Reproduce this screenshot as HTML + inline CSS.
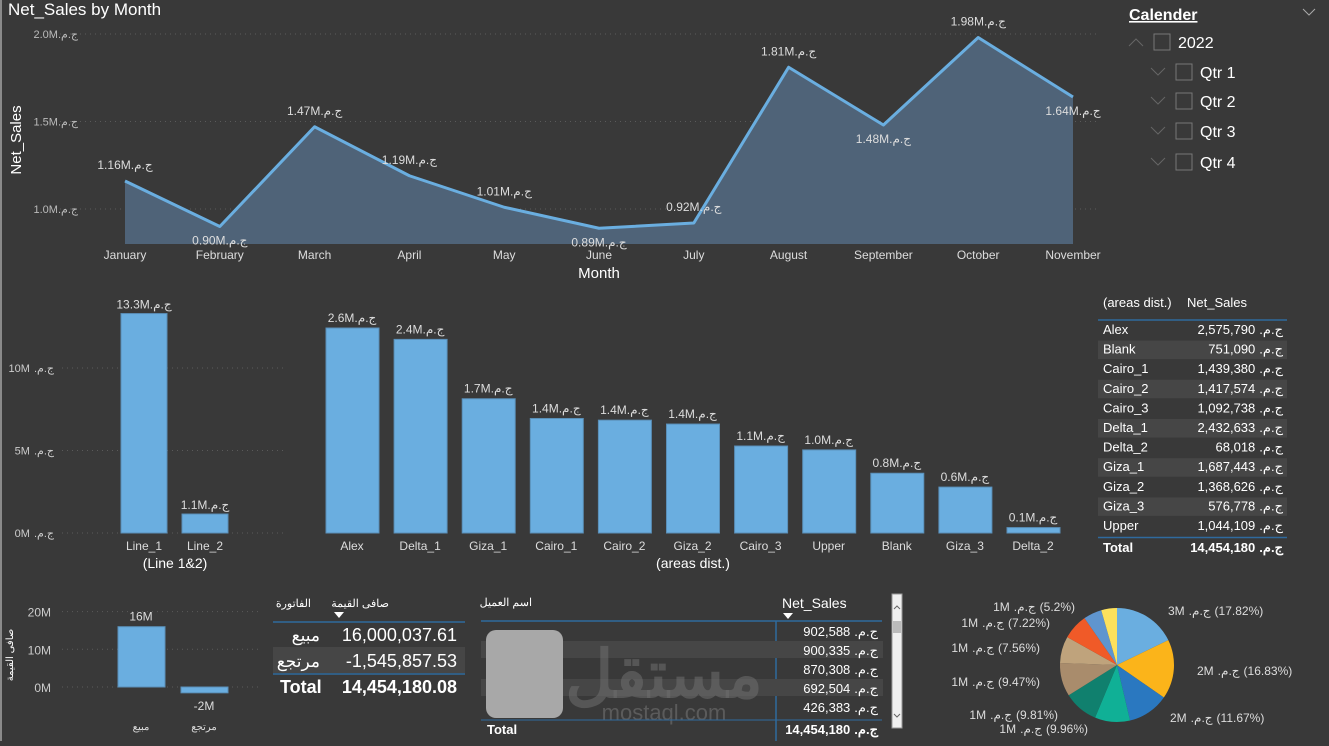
<!DOCTYPE html>
<html><head><meta charset="utf-8">
<style>
html,body{margin:0;padding:0;background:#393939;}
body{width:1329px;height:741px;overflow:hidden;position:relative;font-family:"Liberation Sans","Noto Sans CJK SC",sans-serif;}
svg text{font-family:"Liberation Sans","Noto Sans CJK SC",sans-serif;}
</style></head>
<body>
<svg id="s" width="1329" height="741" xmlns="http://www.w3.org/2000/svg">
<rect x="0" y="0" width="1329" height="741" fill="#393939"/>
<rect x="0" y="0" width="2" height="741" fill="#8a8a8a"/>
<text x="8" y="15" font-size="17" fill="#fff">Net_Sales by Month</text>
<text transform="translate(21,140) rotate(-90)" text-anchor="middle" font-size="15" fill="#fff">Net_Sales</text>
<text x="599" y="278" text-anchor="middle" font-size="15" fill="#fff">Month</text>
<g id="line"></g>
<g id="cal">
<text x="1129" y="20" font-size="16" font-weight="bold" fill="#fff" text-decoration="underline">Calender</text>
<path d="M1303 9 l6 6 l6 -6" stroke="#aaa" fill="none"/>
</g>
<g id="bars1"></g>
<g id="bars2"></g>
<g id="tbl"></g>
<g id="bot"></g>
<g id="pie"></g>
</svg>
<script>
const NS="http://www.w3.org/2000/svg";
const S=document.getElementById('s');
const CURP=[".","م",".","ج"];
function el(tag,attrs,parent,txt){const e=document.createElementNS(NS,tag);for(const k in attrs)e.setAttribute(k,attrs[k]);if(txt!==undefined){e.textContent=txt;}(parent||S).appendChild(e);return e;}
// text made of separately placed pieces (avoids bidi reordering). numbers = gaps in px
function ctext(parent,x,y,anchor,size,fill,weight,parts,name){
const g=el('g',{},parent);


let cur=0;
parts.forEach(p=>{if(typeof p==='number'){cur+=p;return;}
const t=el('text',{x:cur,y:0,'font-size':size,fill:fill,'font-weight':weight||'normal'},g,p);
cur+=t.getComputedTextLength();});
const off=anchor==='end'?-cur:anchor==='middle'?-cur/2:0;
g.setAttribute('transform',`translate(${x+off},${y})`);return g;}
// ---- line chart data
const months=["January","February","March","April","May","June","July","August","September","October","November"];
const monthSales=[1.16,0.90,1.47,1.19,1.01,0.89,0.92,1.81,1.48,1.98,1.64];
const lineTicks=[1.0,1.5,2.0];
// ---- bar chart 1
const lineCats=["Line_1","Line_2"];
const lineVals=[13.3,1.15];
const lineLabels=["13.3M","1.1M"];
const lineTickVals=[0,5,10];
// ---- bar chart 2
const areaCats=["Alex","Delta_1","Giza_1","Cairo_1","Cairo_2","Giza_2","Cairo_3","Upper","Blank","Giza_3","Delta_2"];
const areaVals=[2.576,2.433,1.687,1.439,1.418,1.369,1.093,1.044,0.751,0.577,0.068];
const areaLabels=["2.6M","2.4M","1.7M","1.4M","1.4M","1.4M","1.1M","1.0M","0.8M","0.6M","0.1M"];
// ---- table
const tblNames=["Alex","Blank","Cairo_1","Cairo_2","Cairo_3","Delta_1","Delta_2","Giza_1","Giza_2","Giza_3","Upper"];
const tblVals=["2,575,790","751,090","1,439,380","1,417,574","1,092,738","2,432,633","68,018","1,687,443","1,368,626","576,778","1,044,109"];
// ---- invoice chart
const invCats=["مبيع","مرتجع"];
const invVals=[16.0,-1.55];
const invLabels=["16M","-2M"];
const invTicks=[0,10,20];
// ---- customers table
const custVals=["902,588","900,335","870,308","692,504","426,383"];
// ---- pie
const pieVals=[17.82,16.83,11.67,9.96,9.81,9.47,7.56,7.22,5.2,4.46];
const pieLabels=["3M","2M","2M","1M","1M","1M","1M","1M","1M",""];
const pieColors=["#6aaee0","#fbb41a","#2a78c0","#10b096","#10806e","#a98c6c","#bfa37c","#f05a28","#5f95cf","#fde15c"];

// line chart
{const g=document.getElementById('line');
const x=i=>125+i*94.8, y=v=>209-(v-1.0)*175, base=244;
lineTicks.forEach(t=>{const gl=el('line',{x1:60,x2:1100,y1:y(t),y2:y(t),stroke:'#5a5a5a','stroke-dasharray':'1 4'},g);

ctext(g,78,y(t)+4,'end',11,'#bbb',null,[t.toFixed(1)+"M",...CURP],'y-tick-label');});
let d="M"+x(0)+" "+base;monthSales.forEach((v,i)=>d+=" L"+x(i)+" "+y(v));d+=" L"+x(monthSales.length-1)+" "+base+"Z";
const a=el('path',{d:d,fill:'#4f6378'},g);
let d2="";monthSales.forEach((v,i)=>d2+=(i?" L":"M")+x(i)+" "+y(v));
const l=el('path',{d:d2,fill:'none',stroke:'#6aaee0','stroke-width':3,'stroke-linejoin':'round'},g);
const below=[1,5,8,10];
months.forEach((m,i)=>{const v=monthSales[i];
const t=el('text',{x:x(i),y:259,'text-anchor':'middle','font-size':12,fill:'#ddd'},g,m);
const ly=below.includes(i)?y(v)+18:y(v)-12;
ctext(g,x(i),ly,'middle',12,'#ddd',null,[v.toFixed(2)+"M",...CURP],'data-label');});}

// calendar
{const g=document.getElementById('cal');
const items=[["2022",1129,42,true],["Qtr 1",1151,72],["Qtr 2",1151,101],["Qtr 3",1151,131],["Qtr 4",1151,162]];
items.forEach(it=>{const [lab,cx,cy,up]=it;
el('path',{d:up?`M${cx} ${cy+4} l7 -7 l7 7`:`M${cx} ${cy-4} l7 7 l7 -7`,stroke:'#666',fill:'none'},g);
const b=el('rect',{x:cx+25,y:cy-8,width:16,height:16,fill:'none',stroke:'#777'},g);
const t=el('text',{x:cx+49,y:cy+6,'font-size':16,fill:'#fff'},g,lab);});}

// bar chart 1 & 2
{const g=document.getElementById('bars1');const base=533,k=16.5;
lineTickVals.forEach(t=>{const yy=base-t*k;
const gl=el('line',{x1:62,x2:285,y1:yy,y2:yy,stroke:'#5a5a5a','stroke-dasharray':'1 4'},g);
ctext(g,54,yy+4,'end',11,'#ccc',null,[t+"M",4,...CURP],'y-tick-label');});
lineCats.forEach((c,i)=>{const x0=121+i*61,h=lineVals[i]*k;
const r=el('rect',{x:x0,y:base-h,width:46,height:h,fill:'#6aaee0',stroke:'#5a8fb8'},g);
ctext(g,x0+23,base-h-5,'middle',12,'#ddd',null,[lineLabels[i],...CURP],'data-label');
const xl=el('text',{x:x0+23,y:550,'text-anchor':'middle','font-size':12,fill:'#ddd'},g,c);});
const tt=el('text',{x:175,y:568,'text-anchor':'middle','font-size':14,fill:'#fff'},g,"(Line 1&2)");
const g2=document.getElementById('bars2');const k2=205/2.576;
areaCats.forEach((c,i)=>{const x0=326+i*68.1,h=areaVals[i]*k2;
const r=el('rect',{x:x0,y:base-h,width:53,height:h,fill:'#6aaee0',stroke:'#5a8fb8'},g2);
ctext(g2,x0+26,base-h-6,'middle',12,'#ddd',null,[areaLabels[i],...CURP],'data-label');
const xl=el('text',{x:x0+26,y:550,'text-anchor':'middle','font-size':12,fill:'#ddd'},g2,c);});
const t2=el('text',{x:693,y:568,'text-anchor':'middle','font-size':14,fill:'#fff'},g2,"(areas dist.)");}

// areas table
{const g=document.getElementById('tbl');
el('text',{x:1103,y:307,'font-size':13,fill:'#fff'},g,"(areas dist.)");
el('text',{x:1187,y:307,'font-size':13,fill:'#fff'},g,"Net_Sales");
el('line',{x1:1098,x2:1287,y1:320,y2:320,stroke:'#2f6a9e','stroke-width':1.5},g);
tblNames.forEach((n,i)=>{const top=320+i*19.6;
if(i%2==1)el('rect',{x:1098,y:top+1,width:189,height:18.5,fill:'#464646'},g);
const t=el('text',{x:1103,y:top+14,'font-size':13,fill:'#fff'},g,n);
ctext(g,1283,top+14,'end',13,'#fff',null,[tblVals[i],4,...CURP],'table-row-value');});
el('line',{x1:1098,x2:1287,y1:537.5,y2:537.5,stroke:'#2f6a9e','stroke-width':1.5},g);
el('text',{x:1103,y:552,'font-size':13,'font-weight':'bold',fill:'#fff'},g,"Total");
ctext(g,1283,552,'end',13,'#fff','bold',["14,454,180",4,...CURP],'table-total');}

// bottom section
{const g=document.getElementById('bot');const base=687,k=3.77;
invTicks.forEach(t=>{const yy=base-t*k;
const gl=el('line',{x1:62,x2:262,y1:yy,y2:yy,stroke:'#5a5a5a','stroke-dasharray':'1 4'},g);
el('text',{x:51,y:yy+5,'text-anchor':'end','font-size':12,fill:'#ccc'},g,t+"M");});
el('text',{transform:'translate(13,655) rotate(-90)','text-anchor':'middle','font-size':10,fill:'#fff'},g,"صافى القيمة");
invCats.forEach((c,i)=>{const x0=118+i*63,v=invVals[i],h=Math.abs(v)*k,yy=v>=0?base-h:base;
const r=el('rect',{x:x0,y:yy,width:47,height:h,fill:'#6aaee0',stroke:'#5a8fb8'},g);
el('text',{x:x0+23,y:v>=0?yy-6:yy+h+17,'text-anchor':'middle','font-size':12,fill:'#ddd'},g,invLabels[i]);
el('text',{x:x0+23,y:730,'text-anchor':'middle','font-size':10,fill:'#ddd'},g,c);});
el('text',{x:311,y:607,'text-anchor':'end','font-size':11,fill:'#fff'},g,"الفاتورة");
el('text',{x:389,y:607,'text-anchor':'end','font-size':11,fill:'#fff'},g,"صافى القيمة");
el('path',{d:'M334 612 h10 l-5 6z',fill:'#fff'},g);
el('line',{x1:273,x2:465,y1:622,y2:622,stroke:'#2f6a9e','stroke-width':1.5},g);
el('rect',{x:273,y:647,width:192,height:26,fill:'#464646'},g);
el('line',{x1:273,x2:465,y1:674,y2:674,stroke:'#2f6a9e','stroke-width':1.5},g);
const rows=[["مبيع","16,000,037.61",641],["مرتجع","-1,545,857.53",667]];
rows.forEach(r=>{el('text',{x:320,y:r[2],'text-anchor':'end','font-size':17,fill:'#fff'},g,r[0]);
const v=el('text',{x:457,y:r[2],'text-anchor':'end','font-size':18,fill:'#fff'},g,r[1]);});
el('text',{x:280,y:693,'font-size':18,'font-weight':'bold',fill:'#fff'},g,"Total");
el('text',{x:457,y:693,'text-anchor':'end','font-size':18,'font-weight':'bold',fill:'#fff'},g,"14,454,180.08");
el('text',{x:532,y:606,'text-anchor':'end','font-size':11,fill:'#fff'},g,"اسم العميل");
el('text',{x:782,y:608,'font-size':14,fill:'#fff'},g,"Net_Sales");
el('path',{d:'M783 613 h10 l-5 6z',fill:'#fff'},g);
el('line',{x1:481,x2:882,y1:621,y2:621,stroke:'#2f6a9e','stroke-width':1.5},g);
el('line',{x1:776,x2:776,y1:621,y2:741,stroke:'#2f6a9e','stroke-width':1.5},g);
custVals.forEach((v,i)=>{const top=622+i*19;if(i%2==1)el('rect',{x:481,y:top,width:402,height:17,fill:'#464646'},g);
ctext(g,878,top+14,'end',13,'#fff',null,[v,4,...CURP],'customer-value');});
el('text',{x:664,y:697,'text-anchor':'middle','font-size':66,'font-weight':'bold',fill:'#6a6a6a','fill-opacity':0.6},g,"مستقل");
el('text',{x:664,y:720,'text-anchor':'middle','font-size':22,fill:'#6a6a6a','fill-opacity':0.7},g,"mostaql.com");
el('rect',{x:486,y:630,width:77,height:88,rx:10,fill:'#a8a8a8'},g);
el('line',{x1:481,x2:882,y1:720,y2:720,stroke:'#2f6a9e','stroke-width':1},g);
el('text',{x:487,y:734,'font-size':13,'font-weight':'bold',fill:'#fff'},g,"Total");
ctext(g,878,734,'end',13,'#fff','bold',["14,454,180",4,...CURP],'customer-total');
const sb=el('rect',{x:892,y:594,width:10,height:134,fill:'#f0f0f0',stroke:'#999'},g);
el('rect',{x:893,y:621,width:8,height:12,fill:'#bbb'},g);
el('path',{d:'M894 609 l3 -3 l3 3',stroke:'#666',fill:'none'},g);
el('path',{d:'M894 714 l3 3 l3 -3',stroke:'#666',fill:'none'},g);}

// pie
{const g=document.getElementById('pie');const cx=1117,cy=665,r=57;
const tot=pieVals.reduce((a,b)=>a+b,0);let a0=0;
const lab=[[1168,615,'start'],[1197,675,'start'],[1170,722,'start'],[1088,733,'end'],[1058,719,'end'],[1040,686,'end'],[1040,652,'end'],[1050,627,'end'],[1075,611,'end']];
pieVals.forEach((v,i)=>{const a1=a0+v/tot*2*Math.PI;
const p=(a)=>[cx+r*Math.sin(a),cy-r*Math.cos(a)];const [x1,y1]=p(a0),[x2,y2]=p(a1);
const s=el('path',{d:`M${cx} ${cy} L${x1} ${y1} A${r} ${r} 0 ${a1-a0>Math.PI?1:0} 1 ${x2} ${y2}Z`,fill:pieColors[i]},g);

if(pieLabels[i]){const L=lab[i];
ctext(g,L[0],L[1],L[2],12,'#ddd',null,[pieLabels[i],4,...CURP,4,"("+v+"%)"],'pie-label');}
a0=a1;});}
</script>
</body></html>
